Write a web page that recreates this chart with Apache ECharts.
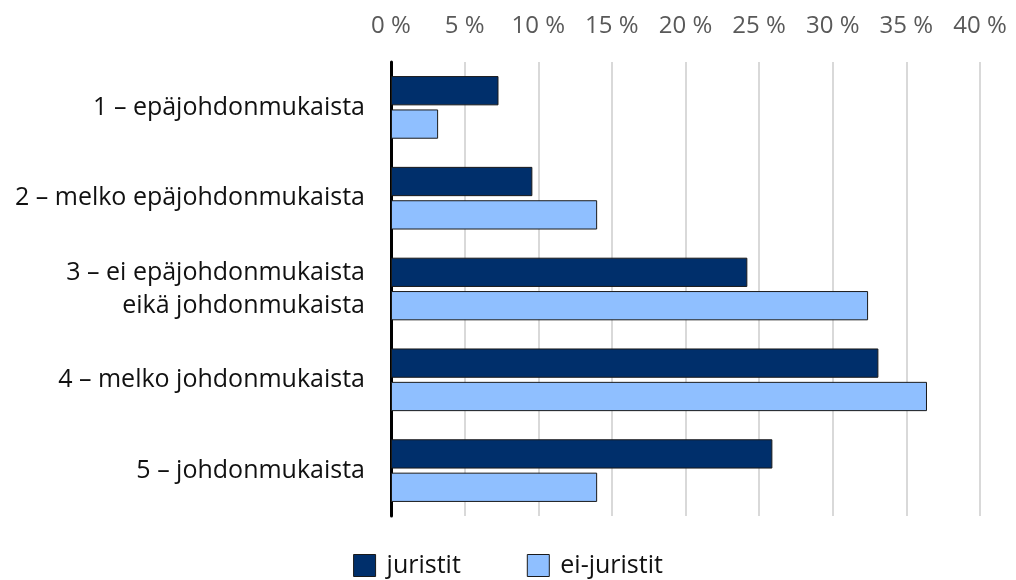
<!DOCTYPE html>
<html>
<head>
<meta charset="utf-8">
<script src="https://cdn.jsdelivr.net/npm/echarts@6/dist/echarts.min.js"></script>
<style>
  html, body { margin: 0; padding: 0; background: #fff; }
  #chart { width: 1016px; height: 580px; }
</style>
</head>
<body>
<div id="chart"></div>
<script>
// categories and values (%)
const categories = [
  "1 – epäjohdonmukaista",
  "2 – melko epäjohdonmukaista",
  "3 – ei epäjohdonmukaista\neikä johdonmukaista",
  "4 – melko johdonmukaista",
  "5 – johdonmukaista"
];
const juristit = [7.3, 9.6, 24.2, 33.1, 25.9];
const eiJuristit = [3.2, 14.0, 32.4, 36.4, 14.0];

const font = "Open Sans";

let myChart = echarts.init(document.getElementById("chart")),
  option;
option = {
  animation: false,
  textStyle: { fontFamily: font },
  grid: { left: 391, right: 36, top: 62, bottom: 64 },
  legend: {
    top: 548,
    left: "center",
    icon: "rect",
    itemWidth: 22,
    itemHeight: 22,
    itemGap: 66,
    itemStyle: { borderColor: "#1a1a1a", borderWidth: 1 },
    textStyle: { fontSize: 25, color: "#111", fontFamily: font, padding: [0, 0, 0, 6] },
    data: ["juristit", "ei-juristit"]
  },
  xAxis: {
    type: "value",
    position: "top",
    min: 0,
    max: 40,
    interval: 5,
    axisLine: { show: false },
    axisTick: { show: false },
    axisLabel: {
      formatter: "{value} %",
      fontSize: 24,
      color: "#595959",
      margin: 24
    },
    splitLine: { lineStyle: { color: "#d9d9d9", width: 2 } }
  },
  yAxis: {
    type: "category",
    inverse: true,
    data: categories,
    axisLine: { lineStyle: { color: "#000", width: 3 } },
    axisTick: { show: false },
    axisLabel: {
      fontSize: 25,
      color: "#111",
      margin: 26,
      lineHeight: 33,
      align: "right"
    }
  },
  series: [
    {
      name: "juristit",
      type: "bar",
      data: juristit,
      barGap: "14%",
      barCategoryGap: "31%",
      itemStyle: { color: "#002f6b", borderColor: "#1a1a1a", borderWidth: 1 }
    },
    {
      name: "ei-juristit",
      type: "bar",
      data: eiJuristit,
      itemStyle: { color: "#8fbfff", borderColor: "#1a1a1a", borderWidth: 1 }
    }
  ]
};

if (option && typeof option === "object") myChart.setOption(option);
</script>
</body>
</html>
